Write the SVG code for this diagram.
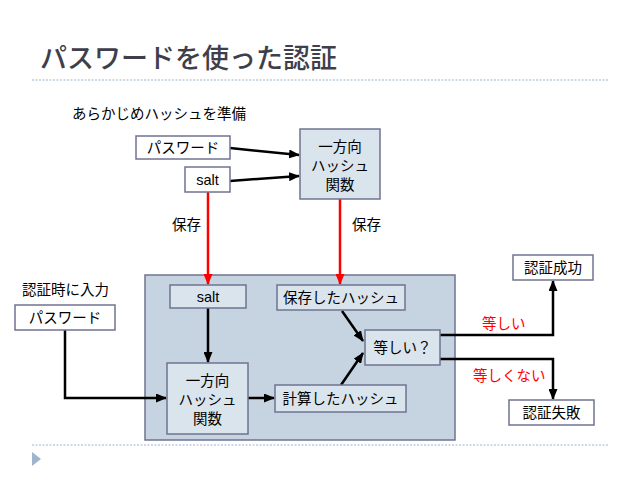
<svg xmlns="http://www.w3.org/2000/svg" width="640" height="480" viewBox="0 0 640 480">
<style>
text{font-family:"Liberation Sans","Noto Sans CJK JP",sans-serif;font-size:14.5px;fill:#000}
.title{font-family:"Liberation Serif","Noto Sans CJK JP",serif;font-size:27px;fill:#3f3f4c;font-weight:500}
.red{fill:#ff0000}
.n{fill:#ffffff;stroke:#6f7390;stroke-width:1.5}
.h{fill:#dae4ec;stroke:#6f7390;stroke-width:1.5}
.big{fill:#c6d4e1;stroke:#6f7390;stroke-width:1.5}
.c{fill:none;stroke:#000;stroke-width:2.5}
.r{fill:none;stroke:#ff0000;stroke-width:2.5}
.dot{stroke:#b9cde0;stroke-width:1.5;stroke-dasharray:2 1.5}
</style>
<defs>
<marker id="a" markerWidth="11" markerHeight="9" refX="10" refY="4.5" orient="auto" markerUnits="userSpaceOnUse"><path d="M0,0 L11,4.5 L0,9 z" fill="#000"/></marker>
<marker id="ar" markerWidth="11" markerHeight="9" refX="10" refY="4.5" orient="auto" markerUnits="userSpaceOnUse"><path d="M0,0 L11,4.5 L0,9 z" fill="#ff0000"/></marker>
</defs>
<rect width="640" height="480" fill="#fff"/>
<text class="title" x="40" y="68">パスワードを使った認証</text>
<line class="dot" x1="32" y1="80" x2="608" y2="80"/>
<line class="dot" x1="32" y1="445" x2="608" y2="445"/>
<path d="M32,452 L41,459 L32,466 z" fill="#9fb5cc"/>
<text x="72" y="119">あらかじめハッシュを準備</text>
<text x="22" y="295">認証時に入力</text>

<g id="bigbox"><rect class="big" x="145" y="275" width="310" height="165"/></g>

<g id="connectors">
<line class="c" x1="230" y1="148" x2="299" y2="155" marker-end="url(#a)"/>
<line class="c" x1="230" y1="181" x2="299" y2="176" marker-end="url(#a)"/>
<line class="r" x1="208" y1="192" x2="208" y2="284" marker-end="url(#ar)"/>
<line class="r" x1="340" y1="199" x2="340" y2="284" marker-end="url(#ar)"/>
<line class="c" x1="208" y1="308" x2="208" y2="362" marker-end="url(#a)"/>
<polyline class="c" points="65,330 65,398 166,398" marker-end="url(#a)"/>
<line class="c" x1="248" y1="398" x2="274" y2="398" marker-end="url(#a)"/>
<line class="c" x1="342" y1="311" x2="363" y2="341" marker-end="url(#a)"/>
<line class="c" x1="341" y1="385" x2="363" y2="353" marker-end="url(#a)"/>
<polyline class="c" points="440,335 553,335 553,281" marker-end="url(#a)"/>
<polyline class="c" points="440,359 553,359 553,399" marker-end="url(#a)"/>
</g>
<text x="172" y="230">保存</text>
<text x="352" y="230">保存</text>
<text class="red" x="482" y="329">等しい</text>
<text class="red" x="473" y="381">等しくない</text>

<g id="pw1"><rect class="n" x="136" y="136" width="94" height="23"/><text x="183" y="153" text-anchor="middle">パスワード</text></g>
<g id="salt1"><rect class="n" x="185" y="167" width="45" height="25"/><text x="207.5" y="185" text-anchor="middle" font-size="12">salt</text></g>
<g id="hash1"><rect class="h" x="300" y="129" width="80" height="70"/>
<text x="340" y="152" text-anchor="middle">一方向</text><text x="340" y="171" text-anchor="middle">ハッシュ</text><text x="340" y="190" text-anchor="middle">関数</text></g>
<g id="salt2"><rect class="h" x="170" y="285" width="76" height="23"/><text x="208" y="302" text-anchor="middle" font-size="12">salt</text></g>
<g id="stored"><rect class="h" x="277" y="285" width="128" height="25"/><text x="341" y="303" text-anchor="middle">保存したハッシュ</text></g>
<g id="equal"><rect class="h" x="365" y="330" width="75" height="35"/><text x="402.5" y="353" text-anchor="middle">等しい？</text></g>
<g id="computed"><rect class="h" x="275" y="385" width="131" height="27"/><text x="340.5" y="404" text-anchor="middle">計算したハッシュ</text></g>
<g id="hash2"><rect class="h" x="167" y="363" width="81" height="71"/>
<text x="207.5" y="386" text-anchor="middle">一方向</text><text x="207.5" y="405" text-anchor="middle">ハッシュ</text><text x="207.5" y="424" text-anchor="middle">関数</text></g>
<g id="pw2"><rect class="n" x="15" y="305" width="100" height="25"/><text x="65" y="323" text-anchor="middle">パスワード</text></g>
<g id="ok"><rect class="n" x="513" y="255" width="80" height="25"/><text x="553" y="273" text-anchor="middle">認証成功</text></g>
<g id="ng"><rect class="n" x="509" y="400" width="85" height="25"/><text x="551.5" y="418" text-anchor="middle">認証失敗</text></g>
</svg>
